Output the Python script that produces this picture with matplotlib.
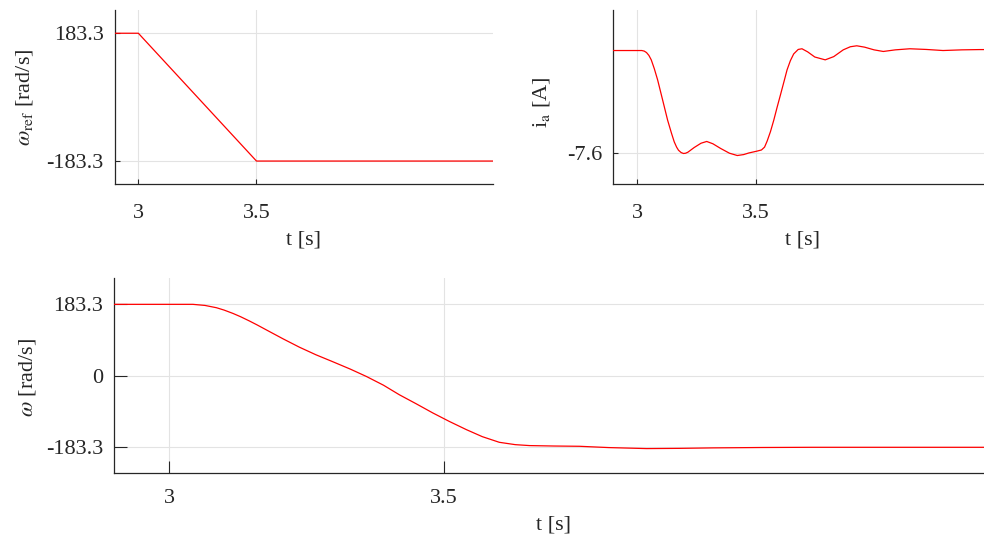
import matplotlib
matplotlib.use("Agg")
import matplotlib.pyplot as plt
import numpy as np

plt.rcParams['font.family'] = ['Liberation Serif', 'DejaVu Serif']
plt.rcParams['mathtext.fontset'] = 'stix'

# reference speed
t_ref = [2.9, 3.0, 3.5, 4.5]
w_ref = [183.3, 183.3, -183.3, -183.3]

# phase current
t_ia = [2.9, 3.02, 3.03, 3.04, 3.05, 3.06, 3.073, 3.087, 3.108, 3.129,
        3.145, 3.157, 3.167, 3.175, 3.186, 3.196, 3.205, 3.215, 3.241, 3.27,
        3.294, 3.32, 3.353, 3.39, 3.423, 3.45, 3.472, 3.505, 3.525, 3.538,
        3.549, 3.563, 3.577, 3.591, 3.605, 3.62, 3.633, 3.647, 3.661, 3.68,
        3.696, 3.72, 3.75, 3.794, 3.83, 3.87, 3.9, 3.927, 3.96, 4.0,
        4.039, 4.09, 4.151, 4.22, 4.291, 4.37, 4.445, 4.5]
ia = [0.0, 0.0, -0.04, -0.15, -0.36, -0.69, -1.35, -2.18, -3.66, -5.15,
      -6.1, -6.76, -7.15, -7.38, -7.55, -7.62, -7.6, -7.52, -7.18, -6.86,
      -6.73, -6.9, -7.25, -7.6, -7.77, -7.7, -7.58, -7.45, -7.36, -7.15,
      -6.7, -6.0, -5.15, -4.2, -3.29, -2.3, -1.43, -0.75, -0.25, 0.08,
      0.13, -0.1, -0.48, -0.69, -0.45, 0.05, 0.28, 0.35, 0.25, 0.05,
      -0.07, 0.05, 0.13, 0.08, 0.0, 0.05, 0.07, 0.07]

# measured speed
t_w = [2.9, 3.043, 3.065, 3.086, 3.1, 3.116, 3.13, 3.146, 3.16, 3.177,
       3.207, 3.237, 3.267, 3.297, 3.33, 3.359, 3.39, 3.419, 3.45, 3.48,
       3.51, 3.541, 3.57, 3.601, 3.63, 3.656, 3.7, 3.747, 3.8, 3.869,
       3.93, 3.99, 4.08, 4.172, 4.5]
w = [183.3, 183.3, 180.5, 174.6, 168.5, 160, 151.5, 140.6, 130.5, 117.6,
     95, 73.4, 54, 36.6, 17, -1.7, -24, -48.6, -72, -95.3,
     -117, -138, -156, -170.5, -176.5, -178.9, -180, -180.7, -184, -186.6,
     -186, -184.8, -183.8, -183.3, -183.3]

x_ticks = [3, 3.5]
x_ticklabels = ['3', '3.5']

FS = 16
AX_COL = '#262626'
GRID_COL = '#e3e3e3'


def style_axes(ax, ticklen, xpad):
    ax.spines['top'].set_visible(False)
    ax.spines['right'].set_visible(False)
    for s in ['left', 'bottom']:
        ax.spines[s].set_color(AX_COL)
        ax.spines[s].set_linewidth(0.9)
    ax.grid(True, color=GRID_COL, linewidth=0.8, zorder=0)
    ax.set_axisbelow(True)
    ax.tick_params(axis='both', direction='in', length=ticklen, width=0.8,
                   color=AX_COL, labelcolor=AX_COL, labelsize=FS)
    ax.tick_params(axis='x', pad=xpad)
    ax.tick_params(axis='y', pad=8)
    ax.set_xlim(2.9, 4.5)
    ax.set_xticks(x_ticks, labels=x_ticklabels)


fig = plt.figure(figsize=(9.84, 5.37), dpi=100)

ax1 = fig.add_axes([0.1166, 0.6568, 0.3841, 0.3246])
ax1.plot(t_ref, w_ref, color='red', lw=0.9, zorder=3)
style_axes(ax1, 3.5, 14.5)
ax1.set_ylim(-250, 250)
ax1.set_yticks([-183.3, 183.3], labels=['-183.3', '183.3'])
ax1.set_ylabel(r'$\omega_{\mathrm{ref}}$ [rad/s]', fontsize=FS, color=AX_COL, va='center')
ax1.yaxis.set_label_coords(-0.24, 0.5)
ax1.set_xlabel('t [s]', fontsize=FS, color=AX_COL, va='center')
ax1.xaxis.set_label_coords(0.5, -0.32)

ax2 = fig.add_axes([0.6233, 0.6568, 0.3854, 0.3246])
ax2.plot(t_ia, ia, color='red', lw=0.9, zorder=3)
style_axes(ax2, 3.5, 14.5)
ax2.set_ylim(-9.9, 3.0)
ax2.set_yticks([-7.6], labels=['-7.6'])
ax2.set_ylabel(r'i$_{\mathrm{a}}$ [A]', fontsize=FS, color=AX_COL, va='center')
ax2.yaxis.set_label_coords(-0.19, 0.47)
ax2.set_xlabel('t [s]', fontsize=FS, color=AX_COL, va='center')
ax2.xaxis.set_label_coords(0.5, -0.32)

ax3 = fig.add_axes([0.1162, 0.1186, 0.893, 0.3631])
ax3.plot(t_w, w, color='red', lw=0.9, zorder=3)
style_axes(ax3, 9, 11.5)
ax3.set_ylim(-250, 250)
ax3.set_yticks([-183.3, 0, 183.3], labels=['-183.3', '0', '183.3'])
ax3.set_ylabel(r'$\omega$ [rad/s]', fontsize=FS, color=AX_COL, va='center')
ax3.yaxis.set_label_coords(-0.099, 0.49)
ax3.set_xlabel('t [s]', fontsize=FS, color=AX_COL, va='center')
ax3.xaxis.set_label_coords(0.5, -0.265)

fig.savefig('out.png', dpi=100)
